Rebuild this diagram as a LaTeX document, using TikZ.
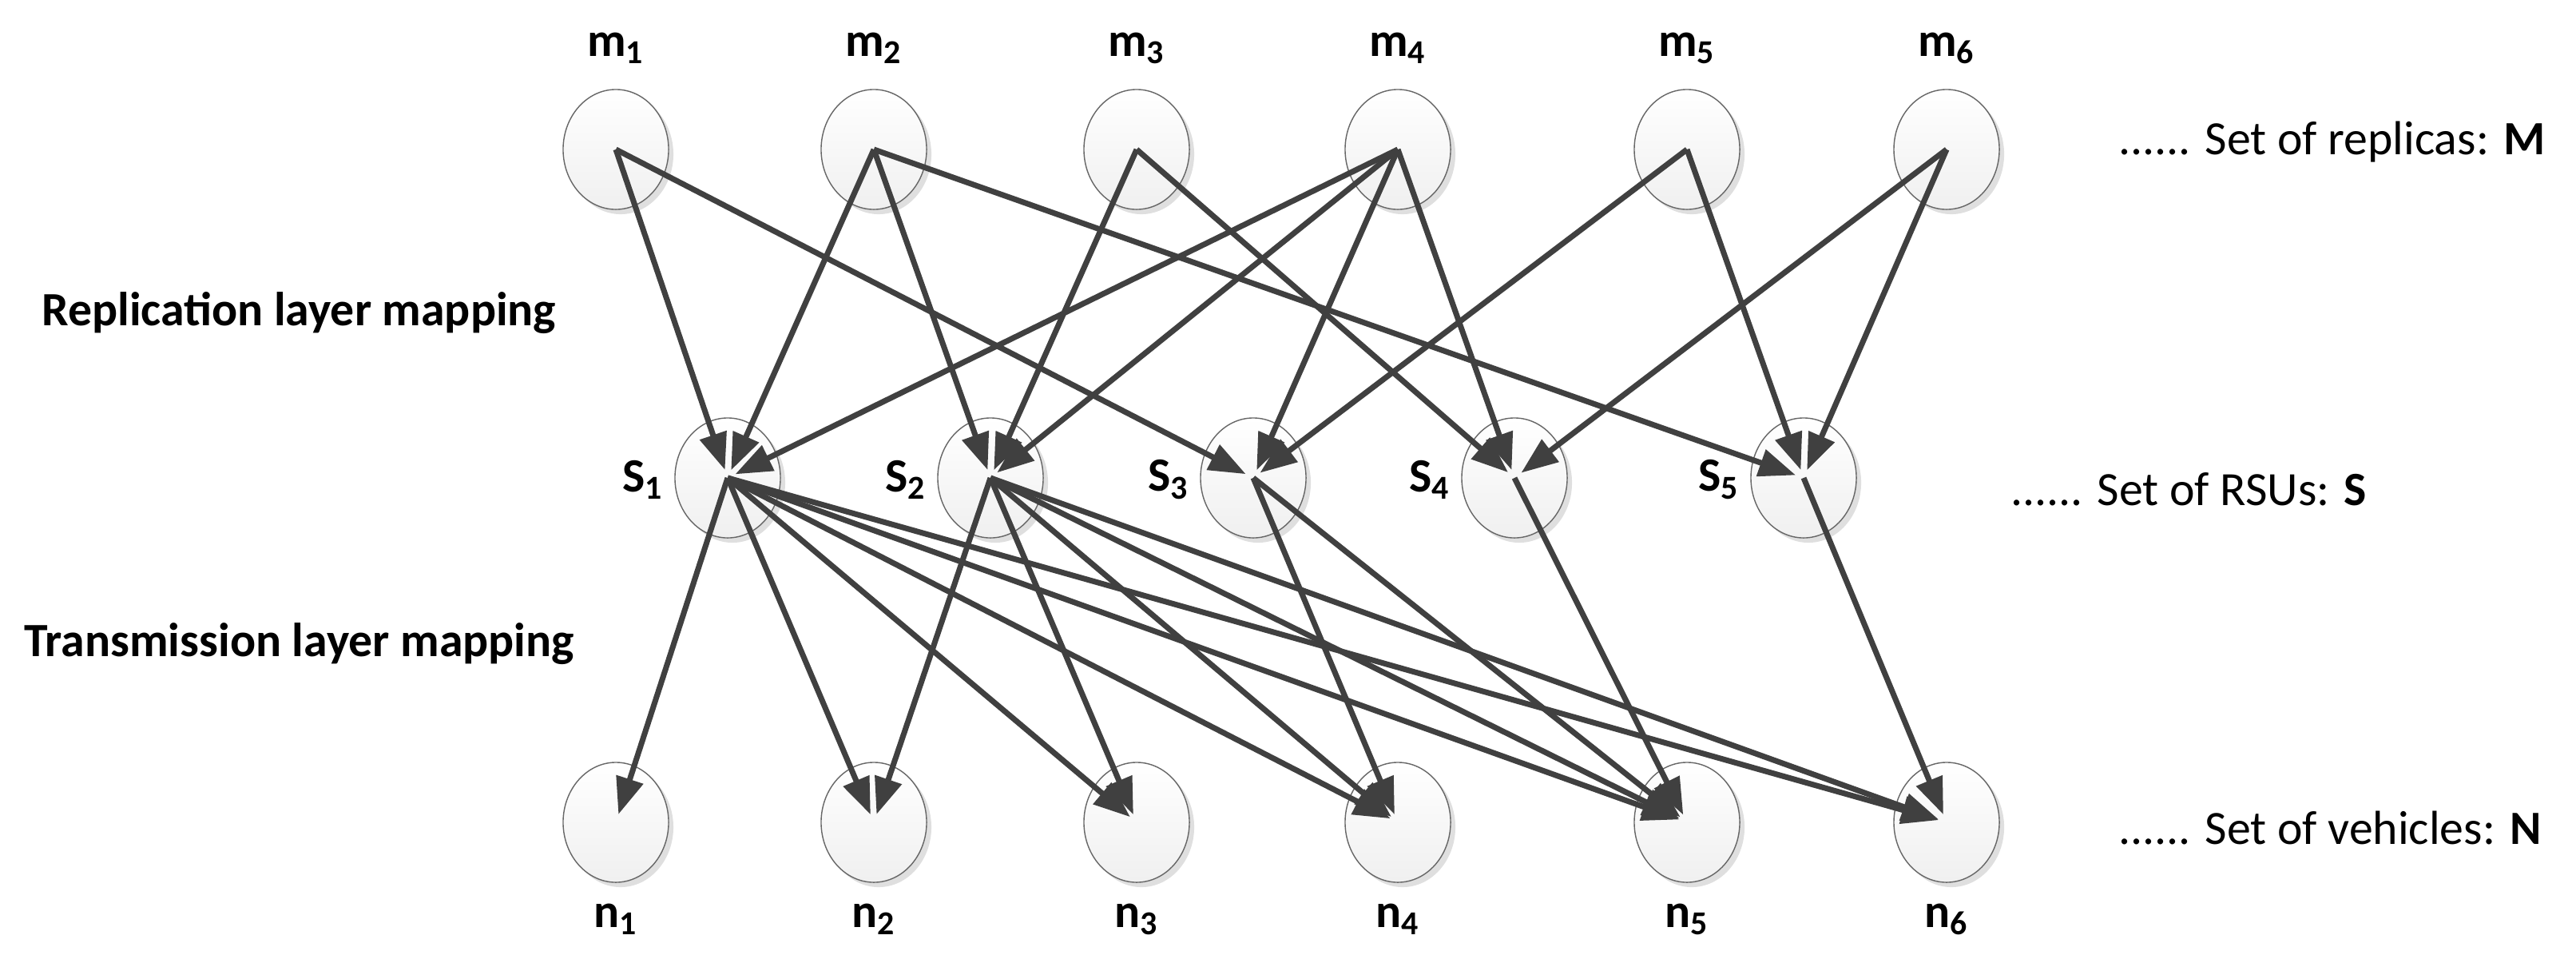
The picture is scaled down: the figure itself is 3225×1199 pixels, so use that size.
\documentclass[tikz,border=0pt]{standalone}
\usepackage{fontspec}
\setmainfont{Carlito}
\usetikzlibrary{arrows.meta,shapes.geometric,shadows}
\begin{document}
\begin{tikzpicture}[x=0.01cm,y=-0.01cm,
  vert/.style={ellipse,draw=gray!80!black,line width=0.4pt,top color=white,bottom color=gray!12,
    minimum width=1.32cm,minimum height=1.5cm,inner sep=0pt,
    drop shadow={opacity=0.25,shadow xshift=0.06cm,shadow yshift=-0.06cm}},
  lab/.style={font=\fontsize{17}{20}\selectfont\bfseries},
  side/.style={font=\fontsize{17}{20}\selectfont,anchor=west},
  edge/.style={draw=black!75,line width=2pt,shorten >=3pt,-{Triangle[length=0.46cm,width=0.34cm]}}]
\useasboundingbox (0,0) rectangle (3225,1199);
\foreach \i/\x in {1/771,2/1094,3/1423,4/1750,5/2112,6/2437}{
  \node[vert] (m\i) at (\x,187) {};
  \node[lab] (ml\i) at (\x,60) {m\textsubscript{\i}};
  \node[vert] (n\i) at (\x,1029) {};
  \node[lab] (nl\i) at (\x,1150) {n\textsubscript{\i}};
}
\foreach \i/\x in {1/911,2/1240,3/1569,4/1896,5/2258}{
  \node[vert] (S\i) at (\x,598) {};
  \node[lab] (Sl\i) at (\x-106,600) {S\textsubscript{\i}};
}
\node[lab,anchor=west] (t1) at (40,392) {Replication layer mapping};
\node[lab,anchor=west] (t2) at (18,806) {Transmission layer mapping};
\node[side] (r1) at (2640,178) {...... Set of replicas: \textbf{M}};
\node[side] (r2) at (2505,612) {...... Set of RSUs: \textbf{S}};
\node[side] (r3) at (2640,1036) {...... Set of vehicles: \textbf{N}};
\foreach \a/\b in {m1/S1,m1/S3,m2/S1,m2/S2,m2/S5,m3/S2,m3/S4,m4/S1,m4/S2,m4/S3,m4/S4,
  m5/S3,m5/S5,m6/S4,m6/S5,S1/n1,S1/n2,S1/n3,S1/n4,S1/n5,S1/n6,S2/n2,S2/n3,S2/n4,S2/n5,S2/n6,
  S3/n4,S3/n5,S4/n5,S5/n6}
  \draw[edge] (\a.center) -- (\b.center);
\end{tikzpicture}
\end{document}
